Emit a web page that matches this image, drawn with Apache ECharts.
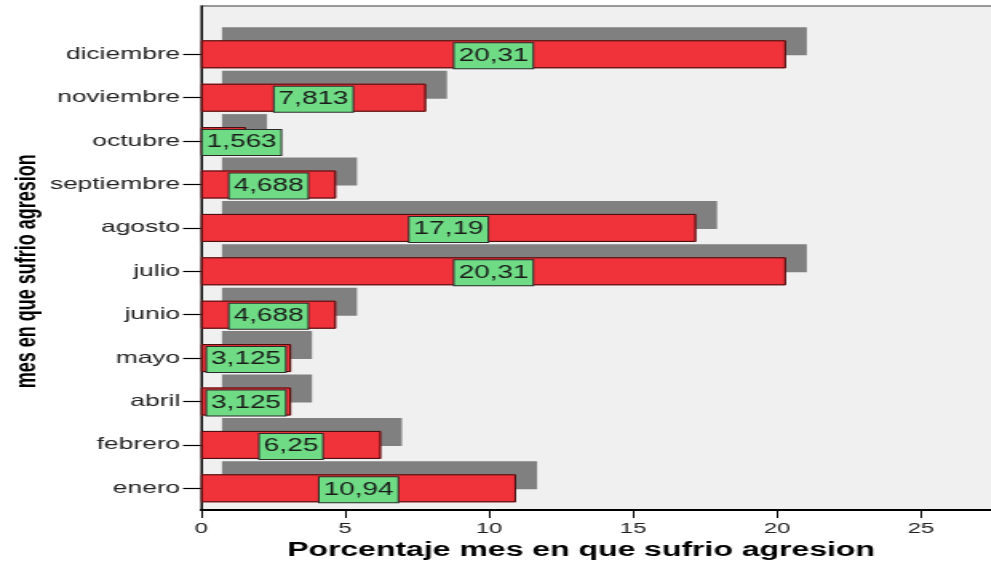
<!DOCTYPE html>
<html>
<head>
<meta charset="utf-8">
<script src="https://cdn.jsdelivr.net/npm/echarts@6/dist/echarts.min.js"></script>
<style>
  html, body { margin: 0; padding: 0; background: #ffffff; overflow: hidden; }
  /* drawn narrow, then widened horizontally like the original export */
  #chart { width: 620px; height: 565px; transform: scaleX(1.598); transform-origin: 0 0; }
</style>
</head>
<body>
<div id="chart"></div>
<script>
// Months listed bottom to top (no data for marzo)
const months = ['enero', 'febrero', 'abril', 'mayo', 'junio', 'julio', 'agosto', 'septiembre', 'octubre', 'noviembre', 'diciembre'];
const percentages = [10.94, 6.25, 3.125, 3.125, 4.688, 20.31, 17.19, 4.688, 1.563, 7.813, 20.31];
const xTicks = [0, 5, 10, 15, 20, 25];

const xTitle = 'Porcentaje mes en que sufrio agresion';
const yTitle = 'mes en que sufrio agresion';

const FONT = 'Liberation Sans, Arial, sans-serif';
const fmt = v => String(v).replace('.', ',');

// small bars get their label pinned to the left of the bar
const labelledData = percentages.map(v => v < 2
  ? { value: v, label: { position: 'insideLeft', distance: 1 } }
  : v);

const chart = echarts.init(document.getElementById('chart'), null, { renderer: 'canvas' });

chart.setOption({
  animation: false,
  backgroundColor: '#ffffff',
  grid: [
    // plot background panel
    { left: 125.8, right: -3, top: 6, bottom: 55, show: true, outerBoundsMode: 'none',
      backgroundColor: '#f0f0f0', borderColor: '#7a7a7a', borderWidth: 1.5 },
    // data area
    { left: 125.8, right: -1.4, top: 32.6, bottom: 55, outerBoundsMode: 'none' }
  ],
  xAxis: [
    { gridIndex: 0, type: 'value', show: false },
    {
      gridIndex: 1, type: 'value', min: 0, max: 27.5, interval: 5,
      splitLine: { show: false },
      axisLine: { show: true, lineStyle: { color: '#000', width: 2 } },
      axisTick: { show: true, length: 8, customValues: xTicks, lineStyle: { color: '#000', width: 1 } },
      axisLabel: { customValues: xTicks, margin: 11, fontFamily: FONT, fontSize: 15, color: '#222' },
      name: xTitle, nameLocation: 'middle', nameGap: 30, nameMoveOverlap: false,
      nameTextStyle: { fontFamily: FONT, fontWeight: 'bold', fontSize: 20, color: '#000', padding: [0, 20, 0, 0] }
    }
  ],
  yAxis: [
    {
      // full-height left edge of the panel
      gridIndex: 0, type: 'value', show: true,
      axisLine: { show: true, onZero: false, lineStyle: { color: '#000', width: 1 } },
      axisTick: { show: false }, axisLabel: { show: false }, splitLine: { show: false }
    },
    {
      gridIndex: 1, type: 'category', data: months,
      axisLine: { show: true, lineStyle: { color: '#000', width: 1 } },
      axisTick: { show: true, alignWithLabel: true, length: 11.25, lineStyle: { color: '#000', width: 1.2 } },
      axisLabel: { margin: 13, fontFamily: FONT, fontSize: 16.5, color: '#222' },
      name: yTitle, nameLocation: 'middle', nameRotate: 90, nameGap: 100, nameMoveOverlap: false,
      nameTextStyle: { fontFamily: FONT, fontWeight: 'bold', fontSize: 18, color: '#000' }
    }
  ],
  series: [
    {
      // filled bars casting the grey offset shadow
      type: 'bar',
      xAxisIndex: 1, yAxisIndex: 1,
      data: percentages,
      barWidth: 28,
      itemStyle: {
        color: '#f0323a',
        borderWidth: 0,
        shadowColor: '#808080',
        shadowBlur: 0,
        shadowOffsetX: 13.1,
        shadowOffsetY: -13
      }
    },
    {
      // outlines and value labels on top
      type: 'bar',
      xAxisIndex: 1, yAxisIndex: 1,
      data: labelledData,
      barWidth: 28,
      barGap: '-100%',
      itemStyle: {
        color: 'rgba(0,0,0,0)',
        borderColor: '#3a0c0c',
        borderWidth: 1
      },
      label: {
        show: true,
        position: 'inside',
        offset: [0, 1.5],
        formatter: p => fmt(p.value),
        fontFamily: FONT,
        fontSize: 17.5,
        lineHeight: 19,
        color: '#1a1a1a',
        backgroundColor: '#6fdc85',
        borderColor: '#2a2a2a',
        borderWidth: 1,
        padding: [3, 2.5, 3, 2.5]
      }
    }
  ]
});
</script>
</body>
</html>
